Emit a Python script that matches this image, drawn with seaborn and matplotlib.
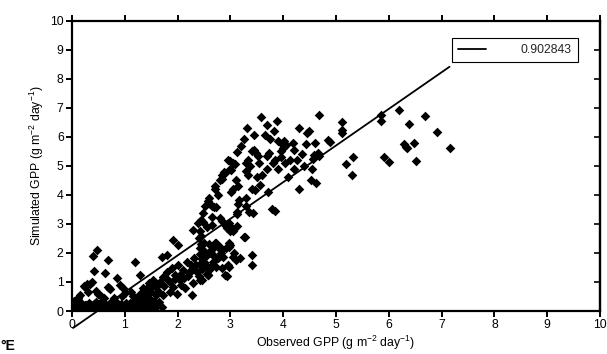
import numpy as np
import matplotlib
matplotlib.use("Agg")
import matplotlib.pyplot as plt
import seaborn as sns

# ---------------- data ----------------
# dense band near zero
obs_band = [0.02, 0.04, 0.06, 0.08, 0.10, 0.12, 0.14, 0.16, 0.18, 0.20,
            0.22, 0.24, 0.26, 0.28, 0.30, 0.32, 0.34, 0.36, 0.38, 0.40,
            0.42, 0.44, 0.46, 0.48, 0.50, 0.52, 0.54, 0.56, 0.58, 0.60,
            0.62, 0.64, 0.66, 0.68, 0.70, 0.72, 0.74, 0.76, 0.78, 0.80,
            0.82, 0.84, 0.86, 0.88, 0.90, 0.92, 0.94, 0.96, 0.98, 1.00,
            1.02, 1.05, 1.08, 1.10, 1.13, 1.16, 1.20, 1.24, 1.28, 1.32,
            1.36, 1.40, 1.45, 1.50, 1.55, 1.60,
            0.03, 0.09, 0.15, 0.21, 0.27, 0.33, 0.39, 0.45, 0.51, 0.57,
            0.63, 0.69, 0.75, 0.81, 0.87, 0.93, 0.99, 1.07, 1.15, 1.22,
            1.30, 1.38]
sim_band = [0.05, 0.15, 0.30, 0.10, 0.20, 0.05, 0.25, 0.12, 0.02, 0.18,
            0.08, 0.22, 0.04, 0.15, 0.10, 0.28, 0.06, 0.20, 0.12, 0.03,
            0.25, 0.10, 0.16, 0.05, 0.22, 0.12, 0.30, 0.08, 0.18, 0.04,
            0.25, 0.14, 0.06, 0.20, 0.10, 0.28, 0.05, 0.16, 0.22, 0.08,
            0.12, 0.30, 0.04, 0.18, 0.10, 0.24, 0.06, 0.15, 0.20, 0.08,
            0.28, 0.12, 0.05, 0.22, 0.15, 0.30, 0.10, 0.20, 0.05, 0.25,
            0.15, 0.30, 0.10, 0.20, 0.35, 0.15,
            0.35, 0.40, 0.02, 0.10, 0.20, 0.12, 0.05, 0.30, 0.10, 0.25,
            0.02, 0.15, 0.10, 0.02, 0.25, 0.12, 0.02, 0.15, 0.08, 0.40,
            0.10, 0.18]

# upper-left branch (simulated too high at small observed values)
obs_left = [0.47, 0.40, 0.69, 0.42, 0.63, 0.85, 0.90, 0.37, 0.34, 0.28,
            0.22, 0.25, 0.69, 0.70, 0.72, 0.15, 0.11, 0.13, 0.17, 0.08,
            1.19, 1.29, 1.00, 1.12, 0.50, 0.55, 0.60, 0.30, 0.45, 0.95,
            0.80, 0.97]
sim_left = [2.10, 1.90, 1.76, 1.38, 1.30, 1.15, 0.90, 0.99, 0.94, 0.94,
            0.87, 0.84, 0.84, 0.78, 0.75, 0.55, 0.44, 0.33, 0.28, 0.22,
            1.70, 1.24, 0.61, 0.66, 0.60, 0.50, 0.45, 0.65, 0.70, 0.50,
            0.45, 0.79]

# rising lower wedge
obs_wedge = [1.35, 1.45, 1.54, 1.60, 1.67, 1.73, 1.79, 1.82, 1.89, 1.95,
             2.01, 2.04, 2.10, 2.17, 2.20, 2.26, 2.32, 2.36, 2.42, 2.45,
             2.48, 2.54, 2.57, 2.63, 2.67, 2.73, 2.76, 2.82, 2.85, 2.92,
             2.95, 3.04, 3.10, 1.10, 1.23, 1.31, 1.45, 1.54, 1.64, 1.70,
             1.39, 1.48, 1.60, 1.73, 1.86, 1.92, 1.99, 2.07, 2.14, 2.27,
             2.30, 2.42, 1.70, 1.80, 1.92, 2.01, 3.40, 3.40, 3.28,
             1.15, 1.20, 1.28, 1.33, 1.40, 1.50, 1.57, 1.62, 1.75, 1.85,
             1.95, 2.05, 2.12, 2.22, 2.28, 2.35, 2.40, 2.50, 2.55, 2.60]
sim_wedge = [0.78, 0.95, 1.07, 0.83, 1.00, 1.18, 1.35, 1.07, 1.47, 1.24,
             1.59, 1.07, 1.40, 1.70, 1.20, 1.59, 1.82, 1.36, 2.16, 1.64,
             1.47, 1.93, 1.24, 2.10, 1.70, 2.33, 1.82, 1.99, 1.47, 2.16,
             1.59, 1.87, 1.76, 0.26, 0.38, 0.26, 0.44, 0.15, 0.32, 0.15,
             0.60, 0.66, 0.56, 0.56, 0.66, 0.83, 0.60, 0.90, 0.78, 0.55,
             0.95, 1.07, 1.87, 1.93, 2.44, 2.28, 1.93, 1.60, 2.56,
             0.50, 0.45, 0.60, 0.45, 0.75, 0.80, 0.90, 0.70, 0.85, 1.00,
             1.10, 1.25, 1.15, 1.30, 1.45, 1.60, 1.20, 1.70, 1.55, 1.40]

# middle cluster
obs_mid = [2.68, 2.72, 2.49, 2.49, 2.65, 2.80, 2.85, 3.12, 3.13, 3.42,
           3.84, 2.98, 3.02, 2.93, 2.90, 2.55, 2.65, 3.12, 2.43, 2.45,
           3.00, 3.05, 3.26, 2.50, 2.60, 2.70, 2.75, 2.68, 2.80, 2.83,
           2.98, 3.00, 2.98, 2.50, 2.60, 2.66, 2.53, 2.68, 2.80, 2.86,
           3.06, 3.18, 2.50, 2.47, 2.53, 2.45, 2.66, 2.72, 2.98, 2.55,
           2.58, 2.90, 2.93, 2.46, 2.30, 2.39, 2.45, 2.40, 2.45, 2.42,
           2.47]
sim_mid = [3.59, 3.57, 3.36, 3.08, 3.25, 3.20, 3.10, 3.41, 3.33, 3.36,
           3.44, 3.02, 2.88, 2.85, 2.95, 2.90, 2.97, 2.94, 2.76, 2.60,
           2.77, 2.77, 2.54, 2.35, 2.30, 2.35, 2.25, 2.20, 2.20, 2.10,
           2.35, 2.27, 2.22, 2.05, 2.00, 1.95, 1.90, 1.90, 1.90, 1.85,
           2.00, 1.83, 1.50, 1.45, 1.55, 1.60, 1.55, 1.50, 1.50, 1.28,
           1.25, 1.25, 1.22, 1.06, 2.79, 3.02, 3.13, 2.50, 2.30, 1.95,
           1.80]

# upper band
obs_up = [3.58, 3.89, 4.68, 3.31, 4.29, 4.48, 4.46, 3.83, 3.66, 3.26,
          3.75, 3.90, 3.97, 4.02, 4.05, 4.19, 4.43, 4.60, 4.84, 3.12,
          3.45, 3.48, 3.52, 3.40, 3.73, 3.69, 4.00, 3.95, 4.20, 4.65,
          4.68, 2.96, 3.05, 3.08, 3.00, 3.33, 3.30, 3.37, 3.55, 3.80,
          3.84, 4.04, 4.12, 4.27, 4.56, 4.58, 2.87, 2.84, 2.90, 2.99,
          3.02, 3.30, 3.33, 3.69, 3.10, 3.05, 3.01, 3.15, 2.80, 2.85,
          2.71, 2.77, 2.58, 2.62, 2.65, 2.52, 3.17, 3.15, 3.30, 3.40,
          3.47, 3.56, 3.30, 3.35, 3.72, 3.78, 4.10, 4.29, 4.53, 4.63,
          4.55, 2.60, 2.70, 3.60, 3.90, 4.20, 4.40, 3.50, 3.95, 4.35,
          3.20, 3.45, 3.70]
sim_up = [6.69, 6.55, 6.75, 6.32, 6.31, 6.20, 6.12, 6.20, 6.06, 5.92,
          5.94, 5.85, 5.75, 5.85, 5.72, 5.77, 5.75, 5.79, 5.89, 5.48,
          5.55, 5.45, 5.35, 5.50, 5.45, 5.34, 5.60, 5.50, 5.54, 5.45,
          5.35, 5.20, 5.10, 5.05, 5.15, 5.20, 5.10, 4.98, 5.10, 5.10,
          5.20, 5.10, 5.20, 5.20, 5.22, 5.36, 4.80, 4.70, 4.75, 4.90,
          4.85, 4.82, 4.70, 4.90, 4.50, 4.20, 4.10, 4.30, 4.50, 4.55,
          4.19, 4.00, 3.80, 3.70, 3.60, 3.62, 3.84, 3.70, 3.90, 4.20,
          4.18, 4.35, 3.60, 3.40, 4.10, 3.50, 4.60, 4.20, 4.50, 4.40,
          4.90, 3.90, 4.30, 4.70, 4.90, 4.90, 5.00, 4.60, 5.30, 5.40,
          5.70, 6.05, 6.40]

# high observed values
obs_high = [5.11, 5.11, 5.11, 4.89, 5.85, 5.85, 6.19, 6.39, 6.69, 6.92,
            6.29, 6.33, 6.35, 6.48, 7.15, 5.32, 5.18, 5.30, 5.90, 6.01,
            6.52]
sim_high = [6.52, 6.24, 6.12, 5.83, 6.75, 6.55, 6.94, 6.44, 6.72, 6.17,
            5.74, 5.66, 5.60, 5.79, 5.62, 5.29, 5.05, 4.67, 5.29, 5.14,
            5.17]

fit_slope = 1.262
fit_intercept = -0.61
fit_label = "0.902843"

x_ticks = [0, 1, 2, 3, 4, 5, 6, 7, 8, 9, 10]
y_ticks = [0, 1, 2, 3, 4, 5, 6, 7, 8, 9, 10]

# ---------------- plotting ----------------
sns.set_theme(style="white")
plt.rcParams["font.family"] = ["Liberation Sans", "DejaVu Sans"]
plt.rcParams["mathtext.fontset"] = "custom"
plt.rcParams["mathtext.rm"] = "Liberation Sans"
plt.rcParams["mathtext.default"] = "regular"

obs = np.array(obs_band + obs_left + obs_wedge + obs_mid + obs_up + obs_high)
sim = np.array(sim_band + sim_left + sim_wedge + sim_mid + sim_up + sim_high)

fig = plt.figure(figsize=(6.07, 3.54), dpi=100)
ax = fig.add_axes([72 / 607, 1 - 311 / 354, 528 / 607, 290.3 / 354])

sns.scatterplot(x=obs, y=sim, marker="D", color="black", s=24,
                linewidth=0, ax=ax, legend=False, zorder=3)

xl = np.array([obs.min(), obs.max()])
line, = ax.plot(xl, fit_slope * xl + fit_intercept, color="black",
                lw=1.3, clip_on=False, zorder=4, label=fit_label)

ax.set_xlim(0, 10)
ax.set_ylim(0, 10)
ax.set_xticks(x_ticks)
ax.set_yticks(y_ticks)
ax.set_xticklabels([str(t) for t in x_ticks])
ax.set_yticklabels([str(t) for t in y_ticks])

for sp in ax.spines.values():
    sp.set_visible(True)
    sp.set_color("black")
    sp.set_linewidth(1.6)

ax.tick_params(axis="both", which="major", direction="out", length=4,
               width=1.4, color="black", labelsize=8.8, labelcolor="black",
               pad=2, top=True, bottom=True, left=True, right=False)
ax.tick_params(axis="x", labeltop=False)

# inward ticks on the right spine
sec = ax.secondary_yaxis("right")
sec.set_yticks(y_ticks)
sec.tick_params(direction="in", length=4, width=1.4, labelright=False)
sec.spines["right"].set_linewidth(1.6)

ax.set_xlabel("Observed GPP (g m$^{-2}$ day$^{-1}$)", fontsize=8.8,
              color="black", labelpad=2)
ax.set_ylabel("Simulated GPP (g m$^{-2}$ day$^{-1}$)", fontsize=8.8,
              color="black", labelpad=3)

leg = ax.legend(handles=[line], loc="upper right",
                bbox_to_anchor=(0.958, 0.94), frameon=True, fancybox=False,
                edgecolor="black", framealpha=1, fontsize=8.8,
                handlelength=2.3, handletextpad=2.8, borderpad=0.5,
                borderaxespad=0)
leg.get_frame().set_linewidth(0.8)

fig.text(0.001, 0.012, "°E", fontsize=10, fontweight="bold", color="black")

fig.savefig("out.png", dpi=100)
